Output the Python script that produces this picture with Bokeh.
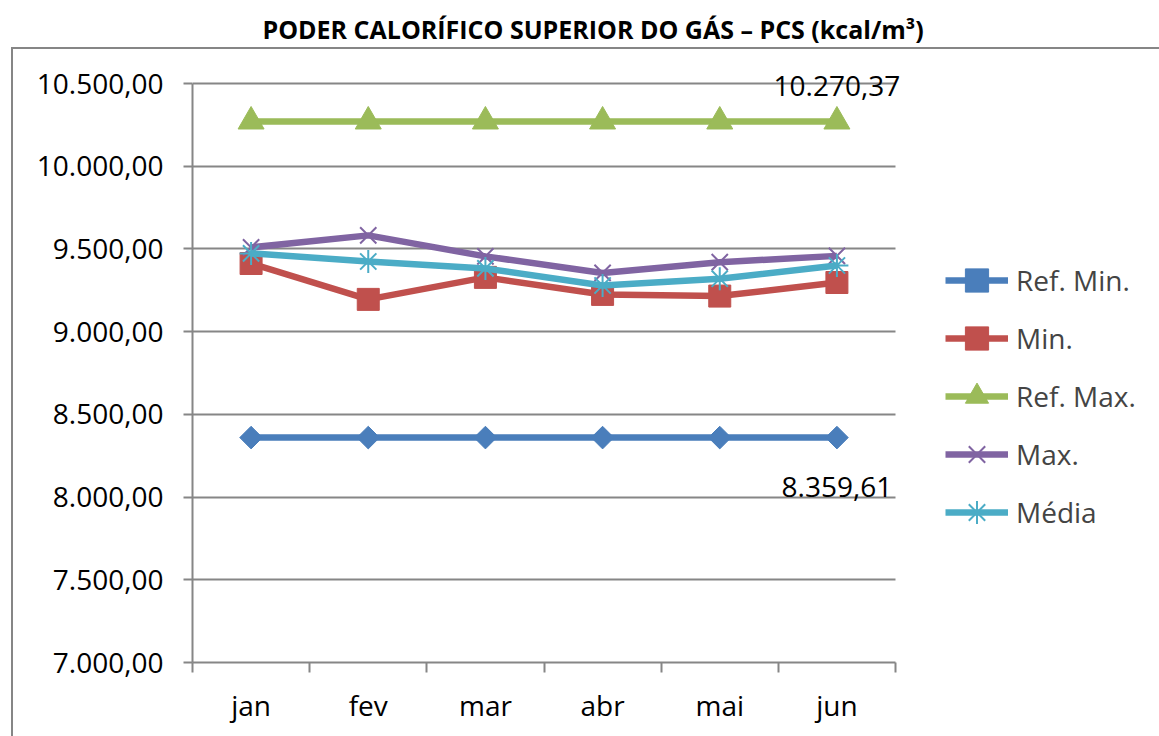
import math
from bokeh.plotting import figure
from bokeh.models import (FixedTicker, Legend, LegendItem, Label, Range1d)
from bokeh.embed import file_html
from bokeh.resources import INLINE

months = ["jan", "fev", "mar", "abr", "mai", "jun"]
ref_min = [8359.61, 8359.61, 8359.61, 8359.61, 8359.61, 8359.61]
min_vals = [9412, 9195, 9328, 9225, 9215, 9297]
ref_max = [10270.37, 10270.37, 10270.37, 10270.37, 10270.37, 10270.37]
max_vals = [9509, 9582, 9455, 9355, 9420, 9458]
media = [9473, 9424, 9382, 9279, 9320, 9400]
y_ticks = [7000, 7500, 8000, 8500, 9000, 9500, 10000, 10500]
y_tick_labels = ["7.000,00", "7.500,00", "8.000,00", "8.500,00", "9.000,00",
                 "9.500,00", "10.000,00", "10.500,00"]
label_max = "10.270,37"
label_min = "8.359,61"
title = "PODER CALORÍFICO SUPERIOR DO GÁS – PCS (kcal/m³)"

FONT = "Open Sans"
GRID = "#868686"

# layout (pixels)
W, H = 1159, 736
FR_L, AX_R, AX_TOP, FR_B, FR_T = 192, 895, 83, 662, 47
Y0, Y1 = 7000, 10500
N = len(months)
y_end = Y1 + (AX_TOP - FR_T) * (Y1 - Y0) / (FR_B - AX_TOP)
x_end = N * (W - FR_L) / (AX_R - FR_L)

xs = [i + 0.5 for i in range(N)]

p = figure(width=W, height=H, output_backend="svg", toolbar_location=None,
           x_range=Range1d(0, x_end), y_range=Range1d(Y0, y_end),
           min_border_left=FR_L, min_border_right=0, min_border_top=FR_T,
           min_border_bottom=H - FR_B)
p.outline_line_color = None
p.background_fill_color = None
p.border_fill_color = None
p.styles = {
    "background": ("linear-gradient(#868686,#868686) 11px 47px / 2px 100% no-repeat, "
                   "linear-gradient(#868686,#868686) 11px 47px / 100% 2px no-repeat, white")
}

p.title.text = title
p.title.text_font = FONT
p.title.text_font_style = "bold"
p.title.text_font_size = "25px"
p.title.text_color = "black"
p.title.align = "left"
p.title.offset = 70
p.title.standoff = 4

# axes
p.xaxis.ticker = FixedTicker(ticks=xs, minor_ticks=list(range(0, N + 1)))
p.xaxis.bounds = (0, N)
p.xaxis.major_label_overrides = {x: m for x, m in zip(xs, months)}
p.xaxis.major_tick_out = 0
p.xaxis.major_tick_in = 0
p.xaxis.minor_tick_out = 10
p.xaxis.minor_tick_in = 0
p.xaxis.minor_tick_line_color = GRID
p.xaxis.minor_tick_line_width = 2
p.xaxis.axis_line_color = GRID
p.xaxis.axis_line_width = 2
p.xaxis.major_label_text_font = FONT
p.xaxis.major_label_text_font_size = "28px"
p.xaxis.major_label_text_color = "black"
p.xaxis.major_label_standoff = 13

p.yaxis.ticker = FixedTicker(ticks=y_ticks)
p.yaxis.bounds = (Y0, Y1)
p.yaxis.major_label_overrides = {t: l for t, l in zip(y_ticks, y_tick_labels)}
p.yaxis.major_tick_out = 9
p.yaxis.major_tick_in = 0
p.yaxis.minor_tick_line_color = None
p.yaxis.major_tick_line_color = GRID
p.yaxis.major_tick_line_width = 2
p.yaxis.axis_line_color = GRID
p.yaxis.axis_line_width = 2
p.yaxis.major_label_text_font = FONT
p.yaxis.major_label_text_font_size = "28px"
p.yaxis.major_label_text_color = "black"
p.yaxis.major_label_standoff = 20

p.xgrid.grid_line_color = None
p.ygrid.grid_line_color = GRID
p.ygrid.grid_line_width = 2
p.ygrid.cross_bounds = (0, N)

series = [
    ("Ref. Min.", ref_min, "#4A7EBB", dict(marker="square", angle=math.pi / 4, size=16)),
    ("Min.", min_vals, "#C0504D", dict(marker="square", size=22)),
    ("Ref. Max.", ref_max, "#9BBB59", dict(marker="triangle", size=26)),
    ("Max.", max_vals, "#8064A2", dict(marker="x", size=23, line_width=2)),
    ("Média", media, "#4BACC6", dict(marker="asterisk", size=23, line_width=2)),
]

items = []
for name, vals, color, mk in series:
    r1 = p.line(xs, vals, line_color=color, line_width=6.5)
    r2 = p.scatter(xs, vals, fill_color=color, line_color=color, **mk)
    items.append(LegendItem(label=name, renderers=[r1, r2]))

legend = Legend(items=items, location=(753, 121), padding=0, margin=0, spacing=0,
                glyph_width=63, glyph_height=58, label_height=58, label_standoff=8,
                label_text_font=FONT, label_text_font_size="28px",
                border_line_alpha=0, background_fill_alpha=0)
p.add_layout(legend, "center")

p.add_layout(Label(x=xs[-1], y=ref_max[-1], text=label_max, y_offset=35,
                   text_align="center", text_baseline="middle",
                   text_font=FONT, text_font_size="28px", text_color="black"))
p.add_layout(Label(x=xs[-1], y=ref_min[-1], text=label_min, y_offset=-49,
                   text_align="center", text_baseline="middle",
                   text_font=FONT, text_font_size="28px", text_color="black"))

open("out.html", "w").write(file_html(p, INLINE))
